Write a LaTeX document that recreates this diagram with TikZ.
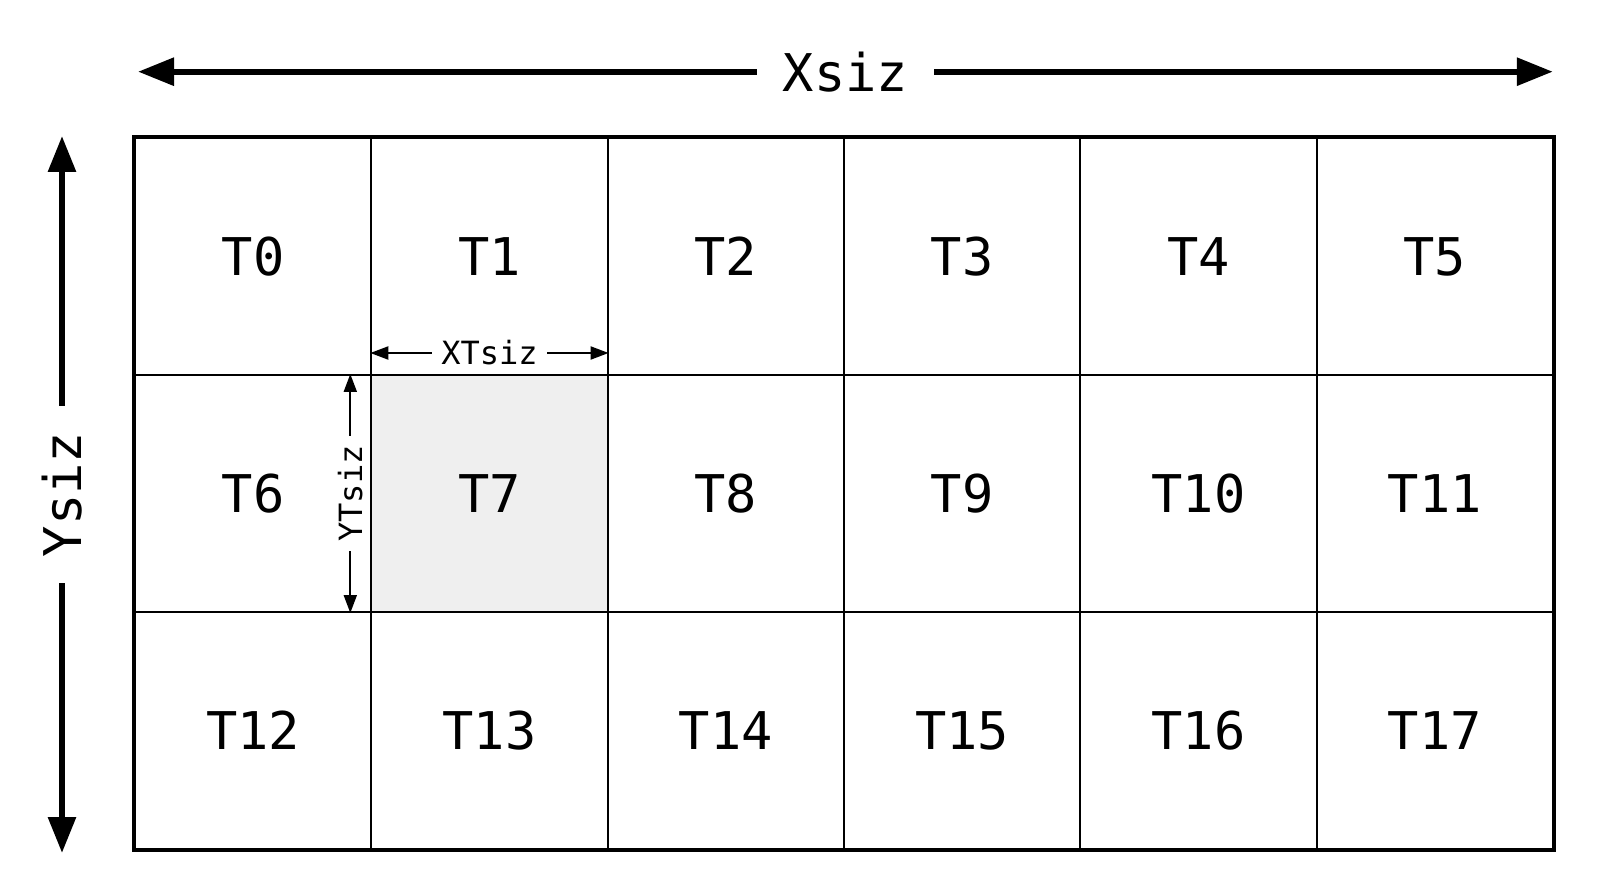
\documentclass[tikz,border=0pt]{standalone}
\usepackage{fontspec}
\usepackage{tikz}
\usetikzlibrary{arrows.meta, positioning, calc}
\newfontfamily\tilefont{DejaVu Sans Mono}
\definecolor{tilegray}{HTML}{EFEFEF}

\begin{document}
\begin{tikzpicture}[x=1pt, y=1pt,
    tile/.style={draw, line width=2pt, minimum width=236.3pt, minimum height=237pt,
        inner sep=0pt, font=\tilefont\fontsize{52}{60}\selectfont},
    bigarrow/.style={line width=6pt, {Triangle[length=36pt,width=27pt]}-{Triangle[length=36pt,width=27pt]}},
    smallarrow/.style={line width=2pt, {Triangle[length=18pt,width=13pt]}-{Triangle[length=18pt,width=13pt]}},
    biglabel/.style={fill=white, inner xsep=26pt, inner ysep=2pt, font=\tilefont\fontsize{52}{60}\selectfont},
    smalllabel/.style={fill=white, inner xsep=9pt, inner ysep=1pt, font=\tilefont\fontsize{32}{38}\selectfont}
]
\useasboundingbox (0,0) rectangle (1600,895);

% Tiles
\foreach \r in {0,1,2} {
    \foreach \c in {0,...,5} {
        \pgfmathtruncatemacro{\n}{\r*6+\c}
        \ifnum\n=7 \def\tilefill{tilegray}\else\def\tilefill{none}\fi
        \node[tile, fill=\tilefill] (t\n) at ({135+(\c+0.5)*236.3}, {757-(\r+0.5)*237}) {T\n};
    }
}

% Image border
\draw[line width=4.5pt] (t0.north west) rectangle (t17.south east);

% Image size
\coordinate (xl) at ($(t0.north west)+(4,65.3)$);
\coordinate (xr) at ($(t5.north east)+(-1,65.3)$);
\draw[bigarrow] (xl) -- node[biglabel] (xsiz) {Xsiz} (xr);

\coordinate (yt) at ($(t0.north west)+(-72,1)$);
\coordinate (yb) at ($(t12.south west)+(-72,-3)$);
\draw[bigarrow] (yb) -- node[biglabel, rotate=90] (ysiz) {Ysiz} (yt);

% Tile size
\coordinate (xtl) at ($(t7.north west)+(0,21)$);
\coordinate (xtr) at ($(t7.north east)+(0,21)$);
\draw[smallarrow] (xtl) -- node[smalllabel] (xtsiz) {XTsiz} (xtr);

\coordinate (ytb) at ($(t7.south west)+(-20,0)$);
\coordinate (ytt) at ($(t7.north west)+(-20,0)$);
\draw[smallarrow] (ytb) -- node[smalllabel, rotate=90] (ytsiz) {YTsiz} (ytt);
\end{tikzpicture}
\end{document}
